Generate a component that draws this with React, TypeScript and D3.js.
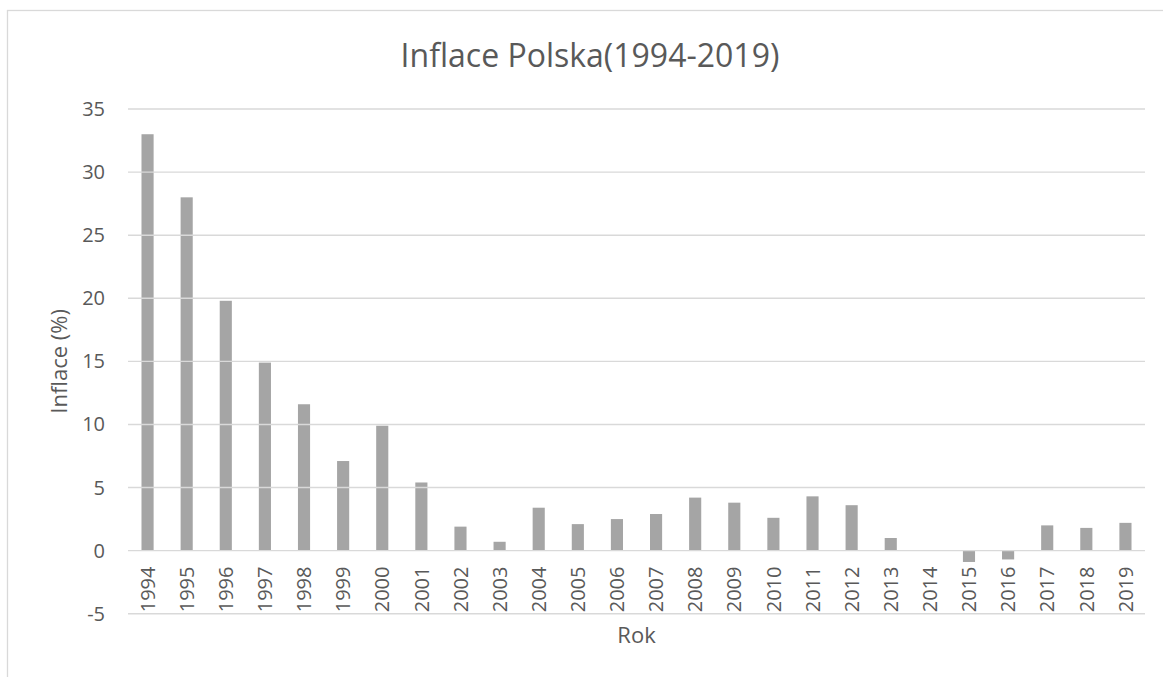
import React from "react";
import * as d3 from "d3";

const years: string[] = [
  "1994", "1995", "1996", "1997", "1998", "1999", "2000", "2001", "2002", "2003",
  "2004", "2005", "2006", "2007", "2008", "2009", "2010", "2011", "2012", "2013",
  "2014", "2015", "2016", "2017", "2018", "2019",
];
const inflation: number[] = [
  33.0, 28.0, 19.8, 14.9, 11.6, 7.1, 9.9, 5.4, 1.9, 0.7,
  3.4, 2.1, 2.5, 2.9, 4.2, 3.8, 2.6, 4.3, 3.6, 1.0,
  0.0, -0.9, -0.7, 2.0, 1.8, 2.2,
];
const yTicks: number[] = [-5, 0, 5, 10, 15, 20, 25, 30, 35];
const title = "Inflace Polska(1994-2019)";
const yTitle = "Inflace (%)";
const xTitle = "Rok";

const W = 1163;
const H = 677;
const plot = { left: 128, right: 1145, top: 109, bottom: 613.7 };
const font = "'Open Sans', sans-serif";
const textColor = "#595959";
const gridColor = "#d9d9d9";
const barColor = "#a5a5a5";

export default function App() {
  const x = d3
    .scaleBand<string>()
    .domain(years)
    .range([plot.left, plot.right])
    .paddingInner(0.69)
    .paddingOuter(0.345);
  const y = d3.scaleLinear().domain([-5, 35]).range([plot.bottom, plot.top]);
  const y0 = y(0);

  return (
    <svg
      width={W}
      height={H}
      style={{ position: "absolute", left: 0, top: 0, background: "#fff" }}
      fontFamily={font}
    >
      <rect x={0} y={0} width={W} height={H} fill="#fff" />
      <rect
        x={7.5}
        y={10.5}
        width={W + 20}
        height={H + 20}
        fill="#fff"
        stroke={gridColor}
        strokeWidth={1.3}
      />
      <text
        x={590}
        y={66.7}
        textAnchor="middle"
        fontSize={32}
        fill={textColor}
      >
        {title}
      </text>

      {years.map((yr, i) => {
        const v = inflation[i];
        const top = Math.min(y(v), y0);
        const h = Math.abs(y(v) - y0);
        return (
          <rect
            key={yr}
            x={x(yr)}
            y={top}
            width={x.bandwidth()}
            height={h}
            fill={barColor}
          />
        );
      })}

      {years.map((yr) => (
        <text
          key={"l" + yr}
          transform={`translate(${(x(yr) as number) + x.bandwidth() / 2 + 7.2},566.5) rotate(-90)`}
          textAnchor="end"
          fontSize={20}
          fill={textColor}
        >
          {yr}
        </text>
      ))}

      {yTicks.map((t) => (
        <line
          key={"g" + t}
          x1={plot.left}
          x2={plot.right}
          y1={y(t)}
          y2={y(t)}
          stroke={gridColor}
          strokeWidth={1.4}
        />
      ))}

      {yTicks.map((t) => (
        <text
          key={"t" + t}
          x={105}
          y={y(t) + 7}
          textAnchor="end"
          fontSize={20}
          fill={textColor}
        >
          {t}
        </text>
      ))}

      <text
        transform={`translate(66.7,${(plot.top + plot.bottom) / 2}) rotate(-90)`}
        textAnchor="middle"
        fontSize={22}
        fill={textColor}
      >
        {yTitle}
      </text>
      <text
        x={(plot.left + plot.right) / 2}
        y={642.7}
        textAnchor="middle"
        fontSize={22}
        fill={textColor}
      >
        {xTitle}
      </text>
    </svg>
  );
}
